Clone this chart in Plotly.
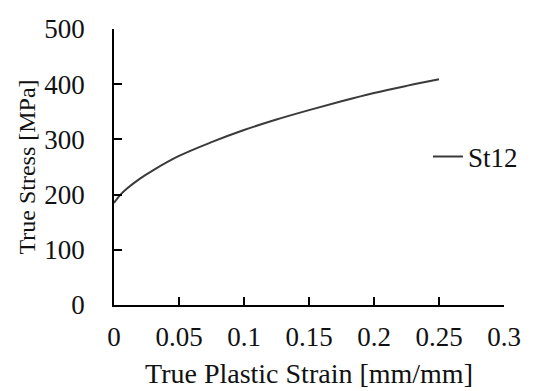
import plotly.graph_objects as go

strain = [0.0, 0.005, 0.01, 0.02, 0.03, 0.05, 0.075, 0.1, 0.125, 0.15, 0.175, 0.2, 0.225, 0.25]
stress = [185, 200, 211, 229, 244, 270, 295, 317, 336, 353, 369, 384, 397, 409]
series_name = "St12"
x_ticks = [0, 0.05, 0.1, 0.15, 0.2, 0.25, 0.3]
x_tick_labels = ["0", "0.05", "0.1", "0.15", "0.2", "0.25", "0.3"]
y_ticks = [0, 100, 200, 300, 400, 500]

font_family = "Liberation Serif, Times New Roman, serif"

fig = go.Figure()
fig.add_trace(go.Scatter(
    x=strain, y=stress, mode="lines", name=series_name,
    line=dict(color="#3a3a3a", width=2, shape="spline"),
))

fig.update_layout(
    width=535, height=391,
    margin=dict(l=114, r=18, t=29, b=86),
    paper_bgcolor="white", plot_bgcolor="white",
    font=dict(family=font_family, color="#111111", size=27),
    showlegend=True,
    legend=dict(x=0.805, y=0.536, xanchor="left", yanchor="middle",
                bgcolor="rgba(0,0,0,0)", font=dict(size=27, family=font_family)),
)
fig.update_xaxes(
    range=[0, 0.3], tickvals=x_ticks, ticktext=x_tick_labels, automargin=False,
    showgrid=False, zeroline=False, showline=True, linecolor="black", linewidth=1.5,
    ticks="inside", ticklen=8, tickwidth=1.5, tickcolor="black",
    ticklabelstandoff=7,
    title=dict(text="True Plastic Strain [mm/mm]", font=dict(size=28), standoff=12),
)
fig.update_yaxes(
    range=[0, 500], tickvals=y_ticks, automargin=False,
    showgrid=False, zeroline=False, showline=True, linecolor="black", linewidth=1.5,
    ticks="inside", ticklen=8, tickwidth=1.5, tickcolor="black",
    ticklabelstandoff=22,
    title=dict(text="True Stress [MPa]", font=dict(size=24), standoff=2),
)

fig.write_html("out.html")
